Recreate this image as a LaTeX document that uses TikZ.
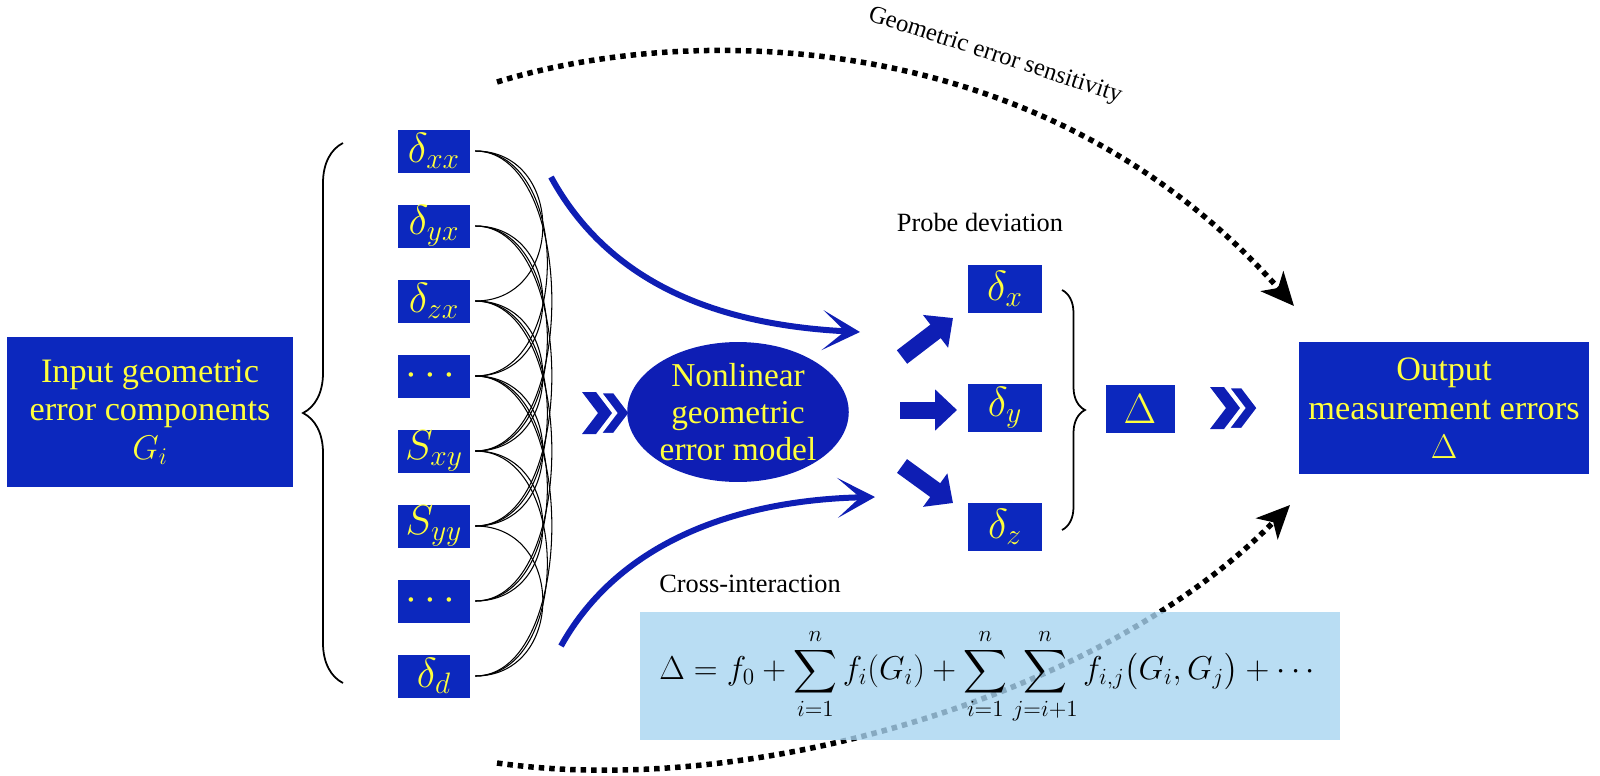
\RequirePackage{fix-cm}
\documentclass[tikz,border=0pt]{standalone}
\usepackage{fontspec}
\setmainfont{Liberation Serif}
\usepackage{amsmath}
\usetikzlibrary{arrows.meta,calc,shapes.geometric,decorations.pathreplacing,positioning}
\definecolor{boxblue}{RGB}{12,40,190}
\definecolor{arrowblue}{RGB}{14,30,180}
\definecolor{txtyellow}{RGB}{255,255,60}
\definecolor{formulablue}{RGB}{168,212,240}

\begin{document}
\begin{tikzpicture}[x=0.02cm,y=-0.02cm]

    \tikzset{
      bigbox/.style={
        fill=boxblue,
        text=txtyellow,
        align=center,
        inner sep=0pt,
        font=\fontsize{19.5}{22}\selectfont,
      },
      errbox/.style={
        fill=boxblue,
        text=txtyellow,
        inner sep=0pt,
        minimum width=1.44cm,
        minimum height=0.86cm,
        font=\fontsize{24}{26}\selectfont,
      },
      mesh/.style={black, line width=0.6pt},
      flow/.style={arrowblue, line width=0.12cm, -{Stealth[length=0.75cm,width=0.8cm,inset=0.45cm]}},
      fat/.style={arrowblue, line width=0.34cm, -{Triangle[length=0.44cm,width=0.8cm]}},
      sens/.style={black, line width=0.11cm, dash pattern=on 0.11cm off 0.1cm, -{Stealth[length=0.66cm,width=0.6cm,inset=0.18cm]}},
      bracket/.style={black, line width=1pt, decorate},
      lbl/.style={inner sep=0pt, font=\fontsize{15}{17}\selectfont},
      dblchev/.pic={
        \fill[arrowblue] (-24,-21) -- (-10,-21) -- (6,0) -- (-10,21) -- (-24,21) -- (-8,0) -- cycle;
        \filldraw[arrowblue, draw=white, line width=0.05cm] (-6,-21) -- (8,-21) -- (24,0) -- (8,21) -- (-6,21) -- (10,0) -- cycle;
      },
    }
    \useasboundingbox (0,0) rectangle (1600,775);

    \coordinate (topstart) at (497,82);
    \coordinate (toptip) at (1294,306);
    \coordinate (botstart) at (497,763);
    \coordinate (bottip) at (1290,505);
    \draw[sens] (topstart) .. controls (700,20) and (1050,30) .. (toptip);
    \draw[sens] (botstart) .. controls (760,800) and (1110,690) .. (bottip);
    \node[lbl, rotate=-18, font=\fontsize{14}{16}\selectfont] (senslbl) at (995,56) {Geometric error sensitivity};

    \node[bigbox, minimum width=5.72cm, minimum height=3cm] (input) at (150,412) {Input geometric\\error components\\$G_i$};
    \draw[bracket, decoration={brace, amplitude=0.8cm}] (343,683) -- (343,143);

    \node[errbox] (g1) at (434,151) {$\delta_{xx}$};
    \node[errbox] (g2) at (434,226) {$\delta_{yx}$};
    \node[errbox] (g3) at (434,301) {$\delta_{zx}$};
    \node[errbox] (g4) at (434,376) {$\cdots$};
    \node[errbox] (g5) at (434,451) {$S_{xy}$};
    \node[errbox] (g6) at (434,526) {$S_{yy}$};
    \node[errbox] (g7) at (434,601) {$\cdots$};
    \node[errbox] (g8) at (434,676) {$\delta_{d}$};

    \draw[mesh] ([xshift=0.1cm]g1.east) .. controls +(90,0) and +(90,0) .. ([xshift=0.1cm]g3.east);
    \draw[mesh] ([xshift=0.1cm]g2.east) .. controls +(90,0) and +(90,0) .. ([xshift=0.1cm]g4.east);
    \draw[mesh] ([xshift=0.1cm]g3.east) .. controls +(90,0) and +(90,0) .. ([xshift=0.1cm]g5.east);
    \draw[mesh] ([xshift=0.1cm]g4.east) .. controls +(90,0) and +(90,0) .. ([xshift=0.1cm]g6.east);
    \draw[mesh] ([xshift=0.1cm]g5.east) .. controls +(90,0) and +(90,0) .. ([xshift=0.1cm]g7.east);
    \draw[mesh] ([xshift=0.1cm]g6.east) .. controls +(90,0) and +(90,0) .. ([xshift=0.1cm]g8.east);
    \draw[mesh] ([xshift=0.1cm]g1.east) .. controls +(96,0) and +(96,0) .. ([xshift=0.1cm]g4.east);
    \draw[mesh] ([xshift=0.1cm]g2.east) .. controls +(96,0) and +(96,0) .. ([xshift=0.1cm]g5.east);
    \draw[mesh] ([xshift=0.1cm]g3.east) .. controls +(96,0) and +(96,0) .. ([xshift=0.1cm]g6.east);
    \draw[mesh] ([xshift=0.1cm]g4.east) .. controls +(96,0) and +(96,0) .. ([xshift=0.1cm]g7.east);
    \draw[mesh] ([xshift=0.1cm]g5.east) .. controls +(96,0) and +(96,0) .. ([xshift=0.1cm]g8.east);
    \draw[mesh] ([xshift=0.1cm]g1.east) .. controls +(102,0) and +(102,0) .. ([xshift=0.1cm]g5.east);
    \draw[mesh] ([xshift=0.1cm]g2.east) .. controls +(102,0) and +(102,0) .. ([xshift=0.1cm]g6.east);
    \draw[mesh] ([xshift=0.1cm]g3.east) .. controls +(102,0) and +(102,0) .. ([xshift=0.1cm]g7.east);
    \draw[mesh] ([xshift=0.1cm]g4.east) .. controls +(102,0) and +(102,0) .. ([xshift=0.1cm]g8.east);

    \coordinate (flowa) at (551,177);
    \coordinate (flowaend) at (860,332);
    \coordinate (flowb) at (561,646);
    \coordinate (flowbend) at (875,497);
    \draw[flow] (flowa) .. controls (610,285) and (720,325) .. (flowaend);
    \draw[flow] (flowb) .. controls (620,540) and (740,500) .. (flowbend);

    \pic (chevl) at (606,413) {dblchev};
    \node[ellipse, fill=arrowblue, text=txtyellow, align=center, inner sep=0pt, minimum width=4.2cm, minimum height=2.8cm, font=\fontsize{19}{21}\selectfont] (model) at (738,412) {Nonlinear\\geometric\\error model};

    \node[errbox, minimum width=1.48cm, minimum height=0.96cm] (dx) at (1005,289) {$\delta_x$};
    \node[errbox, minimum width=1.48cm, minimum height=0.96cm] (dy) at (1005,408) {$\delta_y$};
    \node[errbox, minimum width=1.48cm, minimum height=0.96cm] (dz) at (1005,527) {$\delta_z$};
    \coordinate (fata) at (902,357);
    \coordinate (fatb) at (900,410);
    \coordinate (fatc) at (902,466);
    \draw[fat] (fata) -- (953,318);
    \draw[fat] (fatb) -- (957,410);
    \draw[fat] (fatc) -- (953,503);
    \node[lbl] (probelbl) at (980,222) {Probe deviation};

    \draw[bracket, decoration={brace, amplitude=0.46cm}] (1062,290) -- (1062,530);
    \node[errbox, minimum width=1.38cm, minimum height=0.96cm] (delta) at (1140,409) {$\Delta$};
    \pic (chevr) at (1234,408) {dblchev};
    \node[bigbox, minimum width=5.8cm, minimum height=2.66cm] (output) at (1444,408) {Output\\measurement errors\\$\Delta$};

    \node[lbl] (crosslbl) at (750,584) {Cross-interaction};
    \node[fill=formulablue, fill opacity=0.8, text opacity=1, minimum width=14cm, minimum height=2.58cm, font=\fontsize{18.8}{22}\selectfont] (formula) at (990,676) {$\displaystyle \Delta = f_0+\sum_{i=1}^{n} f_i(G_i)+\sum_{i=1}^{n}\sum_{j=i+1}^{n} f_{i,j}\bigl(G_i,G_j\bigr)+\cdots$};

\end{tikzpicture}
\end{document}
